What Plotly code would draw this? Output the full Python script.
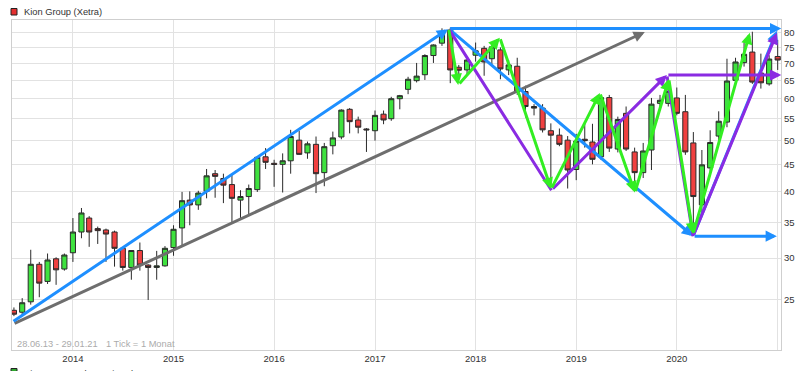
import math
import pandas as pd
import plotly.graph_objects as go

# ---------------- data ----------------
months = pd.date_range("2013-06-01", periods=92, freq="MS")

opens = [23.9, 23.7, 24.8, 29.2, 27.1, 29.9, 28.6,
         30.7, 33.6, 35.7, 34.1, 33.9, 33.6, 31.3, 28.8, 31.0, 29.1, 28.8, 29.0,
         31.4, 34.2, 38.6, 37.8, 40.1, 43.3, 42.4, 41.3, 38.6, 39.2, 40.4, 46.6,
         45.3, 45.1, 45.8, 50.1, 47.4, 49.2, 43.5, 48.9, 50.8, 57.3, 54.7, 52.6,
         52.2, 56.1, 55.0, 60.0, 62.5, 64.9, 66.6, 72.4, 76.4, 80.9, 68.8, 68.0,
         72.5, 74.7, 71.4, 74.2, 68.0, 69.1, 61.9, 58.0, 57.6, 52.2, 51.2, 50.1,
         44.1, 50.3, 49.7, 46.6, 60.3, 48.2, 56.3, 47.6, 43.5, 48.0, 58.8, 58.8,
         60.2, 56.7, 49.5, 37.8, 44.4, 51.0, 54.2, 65.0, 70.2, 73.5, 67.1, 64.0,
         72.1]
highs = [24.2, 25.2, 31.1, 29.5, 30.6, 30.1, 30.6,
         35.7, 37.3, 36.0, 34.4, 34.1, 33.8, 31.4, 31.0, 32.1, 29.2, 30.95, 31.6,
         34.6, 40.0, 40.1, 40.2, 44.2, 44.0, 43.3, 43.3, 40.3, 41.3, 46.6, 48.4,
         46.0, 47.3, 52.4, 52.2, 49.8, 50.9, 49.5, 52.0, 57.3, 57.6, 55.5, 52.8,
         57.0, 57.0, 60.5, 61.0, 66.0, 70.1, 72.8, 76.0, 81.5, 81.7, 69.5, 72.2,
         76.6, 75.5, 76.5, 75.0, 71.0, 71.7, 63.5, 58.6, 58.6, 53.9, 52.7, 51.0,
         51.5, 53.9, 53.8, 61.0, 61.0, 55.5, 58.0, 48.5, 49.5, 60.2, 61.0, 63.0,
         63.0, 61.0, 51.9, 48.0, 52.3, 56.8, 71.4, 71.7, 76.6, 80.3, 73.0, 72.5,
         77.5]
lows = [23.3, 23.3, 24.5, 25.3, 26.8, 26.7, 28.4,
        29.5, 32.7, 31.5, 31.9, 29.5, 28.9, 28.4, 27.3, 28.4, 25.0, 27.3, 28.9,
        30.3, 31.6, 34.6, 37.0, 38.9, 39.0, 38.1, 35.1, 35.6, 36.3, 40.0, 44.2,
        40.9, 39.9, 43.3, 47.0, 46.2, 39.8, 41.0, 47.1, 50.3, 51.6, 51.6, 47.6,
        50.0, 53.7, 54.5, 57.3, 61.2, 64.4, 65.1, 70.1, 75.5, 64.2, 66.8, 66.5,
        70.5, 66.3, 69.5, 65.3, 66.5, 61.0, 55.3, 55.8, 51.8, 40.9, 48.8, 40.6,
        42.1, 48.5, 45.1, 46.0, 47.6, 47.5, 47.8, 41.8, 42.5, 44.0, 57.0, 58.0,
        55.8, 47.0, 33.2, 36.5, 43.5, 49.5, 53.0, 64.0, 69.0, 64.0, 62.7, 63.5,
        68.0]
closes = [23.5, 24.7, 29.2, 26.9, 29.75, 28.5, 30.4,
          33.6, 36.5, 33.6, 33.8, 33.3, 31.3, 28.8, 31.0, 29.1, 28.8, 29.0, 31.3,
          34.0, 38.5, 37.8, 39.8, 42.9, 42.8, 41.2, 38.9, 39.2, 40.6, 46.5, 45.5,
          45.1, 45.8, 50.9, 47.1, 49.3, 43.3, 48.7, 50.6, 57.1, 54.3, 53.0, 52.4,
          55.8, 54.7, 60.0, 60.8, 65.3, 66.2, 72.4, 75.8, 80.2, 68.0, 67.9, 71.0,
          73.9, 70.4, 75.2, 68.3, 69.5, 61.8, 58.0, 57.6, 52.4, 51.2, 49.2, 44.0,
          49.9, 50.0, 46.1, 60.3, 48.4, 54.8, 48.2, 43.5, 47.8, 58.6, 59.6, 62.0,
          56.3, 47.6, 39.2, 45.0, 49.6, 54.4, 64.8, 70.4, 72.8, 64.5, 64.3, 71.3,
          71.0]

year_ticks = ["2014-01-01", "2015-01-01", "2016-01-01", "2017-01-01", "2018-01-01",
              "2019-01-01", "2020-01-01", "2021-01-01"]
year_labels = ["2014", "2015", "2016", "2017", "2018", "2019", "2020", ""]
price_ticks = [25, 30, 35, 40, 45, 50, 55, 60, 65, 70, 75, 80]

# drawn trend arrows (date, price)
blue_x0 = ["2013-05-25", "2017-09-25", "2017-09-25", "2020-02-29", "2020-02-29"]
blue_y0 = [22.7, 81.4, 81.4, 33.0, 33.0]
blue_x1 = ["2017-09-23", "2021-01-14", "2020-02-29", "2020-12-29", "2020-12-29"]
blue_y1 = [81.2, 81.4, 33.0, 33.0, 80.6]
blue_head = [True, True, True, True, True]

gray_x0 = ["2013-05-29"]
gray_y0 = [22.5]
gray_x1 = ["2019-09-07"]
gray_y1 = [80.2]

purple_x0 = ["2017-09-25", "2018-10-03", "2019-11-26", "2019-11-26", "2020-02-29"]
purple_y0 = [81.4, 40.3, 66.5, 66.5, 33.0]
purple_x1 = ["2018-10-03", "2019-11-26", "2021-01-14", "2020-02-29", "2020-12-29"]
purple_y1 = [40.3, 66.5, 66.5, 33.0, 79.9]
purple_head = [False, True, True, False, True]

green_px = ["2017-09-25", "2017-10-30", "2018-03-30", "2018-10-02", "2019-03-28",
            "2019-08-02", "2019-12-03", "2020-02-29", "2020-09-22"]
green_py = [81.4, 63.7, 78.2, 40.5, 61.5, 39.9, 65.4, 33.3, 79.9]

# ---------------- layout geometry ----------------
W, H = 805, 371
PL, PR, PT, PB = 12, 781, 20, 350


def px_x(px):
    return (px - PL) / (PR - PL)


def px_y(py):
    return (PB - py) / (PB - PT)


FONT = "Liberation Sans, Arial, sans-serif"

fig = go.Figure()
fig.add_trace(go.Candlestick(
    x=months, open=opens, high=highs, low=lows, close=closes,
    increasing=dict(fillcolor="#3fe23f", line=dict(color="#2a2a2a", width=1)),
    decreasing=dict(fillcolor="#f04040", line=dict(color="#2a2a2a", width=1)),
    whiskerwidth=0, showlegend=False, hoverinfo="skip",
))


def add_arrow(x0, y0, x1, y1, color, head=True):
    fig.add_annotation(
        x=x1, y=math.log10(y1), ax=x0, ay=math.log10(y0),
        xref="x", yref="y", axref="x", ayref="y",
        text="", showarrow=True,
        arrowhead=2 if head else 0, arrowsize=0.75, arrowwidth=3,
        arrowcolor=color, standoff=0, startstandoff=0,
    )


add_arrow(gray_x0[0], gray_y0[0], gray_x1[0], gray_y1[0], "#6e6e6e")
for a, b, c, d, h in zip(blue_x0, blue_y0, blue_x1, blue_y1, blue_head):
    add_arrow(a, b, c, d, "#1e8fff", h)
for a, b, c, d, h in zip(purple_x0, purple_y0, purple_x1, purple_y1, purple_head):
    add_arrow(a, b, c, d, "#8a2be2", h)
for i in range(len(green_px) - 1):
    add_arrow(green_px[i], green_py[i], green_px[i + 1], green_py[i + 1], "#33ee22")

# header / footer texts
fig.add_shape(type="rect", xref="paper", yref="paper",
              x0=px_x(11), x1=px_x(17), y0=px_y(15), y1=px_y(8.5),
              fillcolor="#e43030", line=dict(color="#222", width=1))
fig.add_annotation(xref="paper", yref="paper", x=px_x(21.5), y=px_y(11.7),
                   xanchor="left", yanchor="middle", showarrow=False,
                   text="Kion Group (Xetra)", font=dict(family=FONT, size=9.3, color="#333"))
fig.add_shape(type="rect", xref="paper", yref="paper",
              x0=px_x(11), x1=px_x(17), y0=px_y(375), y1=px_y(368.5),
              fillcolor="#2fa82f", line=dict(color="#222", width=1))
fig.add_annotation(xref="paper", yref="paper", x=px_x(21.5), y=px_y(373.5),
                   xanchor="left", yanchor="middle", showarrow=False,
                   text="Kion Group Volumen in Stk.", font=dict(family=FONT, size=9.3, color="#333"))
fig.add_annotation(xref="paper", yref="paper", x=px_x(15), y=px_y(343.7),
                   xanchor="left", yanchor="middle", showarrow=False,
                   text="28.06.13 - 29.01.21", font=dict(family=FONT, size=9.3, color="#ababab"))
fig.add_annotation(xref="paper", yref="paper", x=px_x(104.3), y=px_y(343.7),
                   xanchor="left", yanchor="middle", showarrow=False,
                   text="1 Tick = 1 Monat", font=dict(family=FONT, size=9.3, color="#ababab"))

fig.update_layout(
    width=W, height=H,
    margin=dict(l=PL, r=W - PR, t=PT, b=H - PB, pad=0, autoexpand=False),
    paper_bgcolor="white", plot_bgcolor="white",
    boxgap=0.05,
    showlegend=False,
    xaxis=dict(
        type="date", range=["2013-05-25", "2021-01-13"],
        rangeslider=dict(visible=False),
        tickmode="array", tickvals=year_ticks, ticktext=year_labels,
        showgrid=True, gridcolor="#e2e2e2", gridwidth=1,
        showline=True, linecolor="#cfcfcf", linewidth=1, mirror=True,
        ticks="", zeroline=False, automargin=False,
        tickfont=dict(family=FONT, size=9.5, color="#333"),
    ),
    yaxis=dict(
        type="log", range=[math.log10(20.11), math.log10(84.5)],
        side="right", tickmode="array", tickvals=price_ticks,
        ticktext=[str(v) for v in price_ticks],
        showgrid=True, gridcolor="#e2e2e2", gridwidth=1,
        showline=True, linecolor="#cfcfcf", linewidth=1, mirror=True,
        ticks="", zeroline=False, automargin=False,
        tickfont=dict(family=FONT, size=9.5, color="#333"),
    ),
)

fig.write_html(
    "out.html",
    config={"displayModeBar": False, "staticPlot": True},
    post_script="document.body.style.margin='0px';document.body.style.overflow='hidden';",
)
